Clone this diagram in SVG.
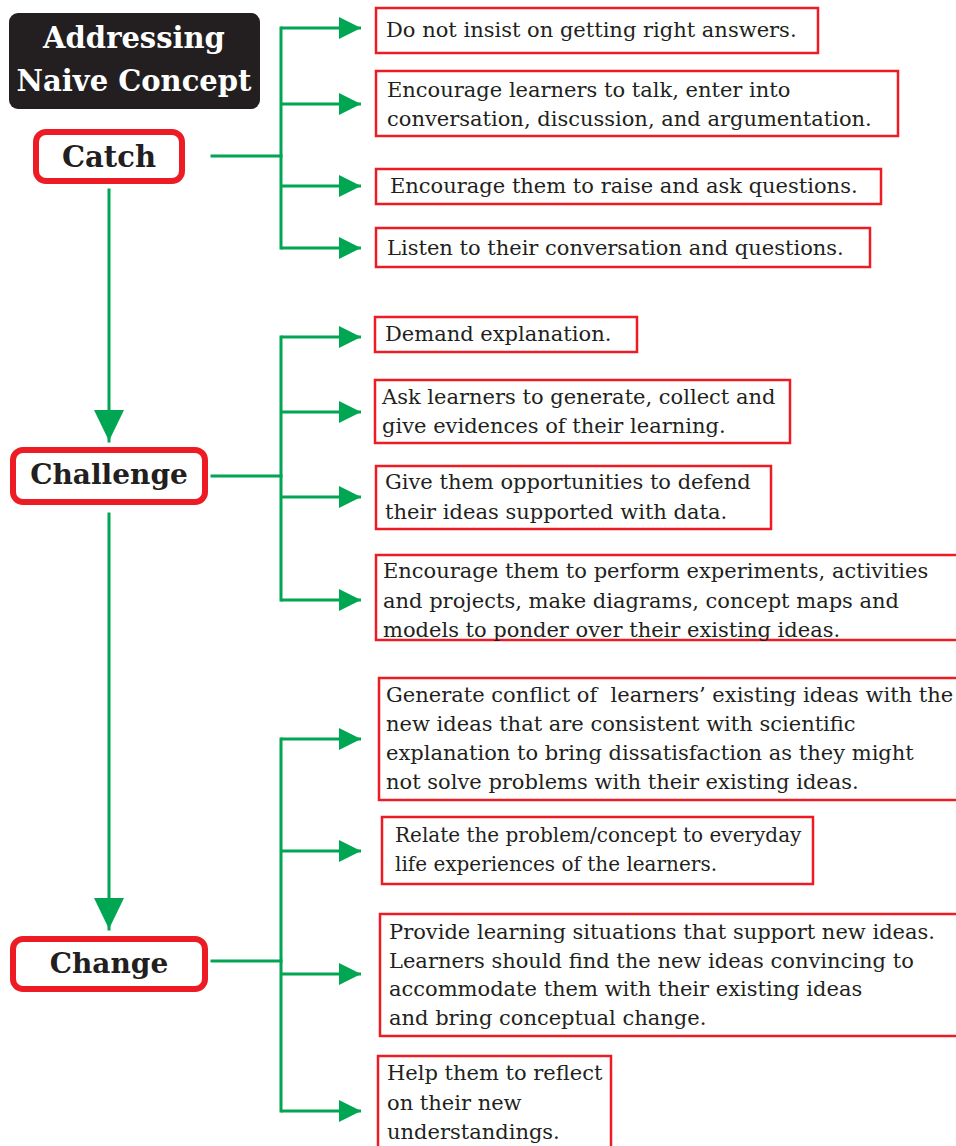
<svg xmlns="http://www.w3.org/2000/svg" width="956" height="1146" viewBox="0 0 956 1146">
  <style>
    .title { font-family: "DejaVu Serif", "Liberation Serif", serif; font-weight: bold; font-size: 29px; fill: #ffffff; text-anchor: middle; }
    .stage { fill: #ffffff; stroke: #ed1c24; stroke-width: 6; }
    .stage-label { font-family: "DejaVu Serif", "Liberation Serif", serif; font-weight: bold; font-size: 29px; fill: #231f20; text-anchor: middle; }
    .stage-label.wide { font-size: 28px; }
    .box { fill: #ffffff; stroke: #ed1c24; stroke-width: 2.5; }
    .txt { font-family: "DejaVu Serif", "Liberation Serif", serif; font-size: 21px; fill: #231f20; }
    .txt.small { font-size: 20px; }
    .link { fill: none; stroke: #00a651; stroke-width: 3; stroke-linecap: square; }
    .branch { fill: none; stroke: #00a651; stroke-width: 3; stroke-linecap: butt; marker-end: url(#arrow-h); }
  </style>
  <defs>
    <marker id="arrow-h" markerUnits="userSpaceOnUse" markerWidth="24" markerHeight="24" refX="22" refY="11" orient="auto" viewBox="0 0 24 24">
      <path d="M0,0 L22,11 L0,22 z" fill="#00a651"/>
    </marker>
    <marker id="arrow-v" markerUnits="userSpaceOnUse" markerWidth="32" markerHeight="32" refX="31" refY="15" orient="auto" viewBox="0 0 32 32">
      <path d="M0,0 L31,15 L0,30 z" fill="#00a651"/>
    </marker>
  </defs>

  <!-- heading -->
  <g id="heading">
    <rect x="9" y="13" width="251" height="96" rx="9" fill="#231f20"/>
    <text class="title" x="134" y="48">Addressing</text>
    <text class="title" x="134" y="91">Naive Concept</text>
  </g>

  <!-- stages -->
  <g id="catch">
    <rect class="stage" x="36" y="132" width="146" height="49" rx="10"/>
    <text class="stage-label" x="109" y="167">Catch</text>
  </g>
  <g id="challenge">
    <rect class="stage" x="13" y="450" width="192" height="52" rx="10"/>
    <text class="stage-label wide" x="109" y="484">Challenge</text>
  </g>
  <g id="change">
    <rect class="stage" x="13" y="939" width="192" height="50" rx="10"/>
    <text class="stage-label wide" x="109" y="973">Change</text>
  </g>

  <!-- connectors -->
  <g id="connectors">
    <line class="link" x1="109" y1="190" x2="109" y2="441" stroke-linecap="butt" marker-end="url(#arrow-v)"/>
    <line class="link" x1="109" y1="514" x2="109" y2="929" stroke-linecap="butt" marker-end="url(#arrow-v)"/>

    <!-- catch branches -->
    <path class="link" d="M212,156 H281"/>
    <path class="link" d="M281,28 V248"/>
    <path class="branch" d="M281,28 H361"/>
    <path class="branch" d="M281,104 H361"/>
    <path class="branch" d="M281,186 H361"/>
    <path class="branch" d="M281,248 H361"/>

    <!-- challenge branches -->
    <path class="link" d="M212,476 H281"/>
    <path class="link" d="M281,337 V600"/>
    <path class="branch" d="M281,337 H361"/>
    <path class="branch" d="M281,412 H361"/>
    <path class="branch" d="M281,497 H361"/>
    <path class="branch" d="M281,600 H361"/>

    <!-- change branches -->
    <path class="link" d="M212,961 H281"/>
    <path class="link" d="M281,739 V1111"/>
    <path class="branch" d="M281,739 H361"/>
    <path class="branch" d="M281,851 H361"/>
    <path class="branch" d="M281,974 H361"/>
    <path class="branch" d="M281,1111 H361"/>
  </g>

  <!-- catch items -->
  <g id="catch-1">
    <rect class="box" x="376" y="8" width="442" height="45"/>
    <text class="txt" x="386" y="37">Do not insist on getting right answers.</text>
  </g>
  <g id="catch-2">
    <rect class="box" x="376" y="71" width="522" height="65"/>
    <text class="txt" x="387" y="97">Encourage learners to talk, enter into</text>
    <text class="txt" x="387" y="126">conversation, discussion, and argumentation.</text>
  </g>
  <g id="catch-3">
    <rect class="box" x="376" y="169" width="505" height="35"/>
    <text class="txt" x="390" y="193">Encourage them to raise and ask questions.</text>
  </g>
  <g id="catch-4">
    <rect class="box" x="376" y="228" width="494" height="39"/>
    <text class="txt" x="387" y="255">Listen to their conversation and questions.</text>
  </g>

  <!-- challenge items -->
  <g id="challenge-1">
    <rect class="box" x="375" y="317" width="262" height="35"/>
    <text class="txt" x="385" y="341">Demand explanation.</text>
  </g>
  <g id="challenge-2">
    <rect class="box" x="375" y="380" width="415" height="63"/>
    <text class="txt" x="382" y="404">Ask learners to generate, collect and</text>
    <text class="txt" x="382" y="433">give evidences of their learning.</text>
  </g>
  <g id="challenge-3">
    <rect class="box" x="376" y="466" width="395" height="63"/>
    <text class="txt" x="385" y="489">Give them opportunities to defend</text>
    <text class="txt" x="385" y="519">their ideas supported with data.</text>
  </g>
  <g id="challenge-4">
    <rect class="box" x="376" y="555" width="590" height="85"/>
    <text class="txt" x="383" y="578">Encourage them to perform experiments, activities</text>
    <text class="txt" x="383" y="608">and projects, make diagrams, concept maps and</text>
    <text class="txt" x="383" y="637">models to ponder over their existing ideas.</text>
  </g>

  <!-- change items -->
  <g id="change-1">
    <rect class="box" x="379" y="678" width="590" height="122"/>
    <text class="txt" x="386" y="702" xml:space="preserve">Generate conflict of  learners’ existing ideas with the</text>
    <text class="txt" x="386" y="731">new ideas that are consistent with scientific</text>
    <text class="txt" x="386" y="760">explanation to bring dissatisfaction as they might</text>
    <text class="txt" x="386" y="789">not solve problems with their existing ideas.</text>
  </g>
  <g id="change-2">
    <rect class="box" x="382" y="817" width="431" height="67"/>
    <text class="txt small" x="395" y="842">Relate the problem/concept to everyday</text>
    <text class="txt small" x="395" y="871">life experiences of the learners.</text>
  </g>
  <g id="change-3">
    <rect class="box" x="380" y="914" width="590" height="122"/>
    <text class="txt" x="389" y="939">Provide learning situations that support new ideas.</text>
    <text class="txt" x="389" y="968">Learners should find the new ideas convincing to</text>
    <text class="txt" x="389" y="996">accommodate them with their existing ideas</text>
    <text class="txt" x="389" y="1025">and bring conceptual change.</text>
  </g>
  <g id="change-4">
    <rect class="box" x="378" y="1056" width="233" height="100"/>
    <text class="txt" x="387" y="1080">Help them to reflect</text>
    <text class="txt" x="387" y="1110">on their new</text>
    <text class="txt" x="387" y="1139">understandings.</text>
  </g>
</svg>
